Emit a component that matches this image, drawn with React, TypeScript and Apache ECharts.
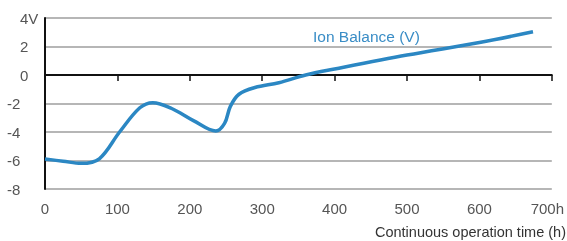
import React, { useEffect, useRef } from "react";
import * as echarts from "echarts";

const hours = [0, 25, 50, 75, 103, 131, 149, 175, 205, 236, 248, 256, 268, 290, 323, 360, 400, 500, 600, 674];
const ionBalance = [-5.9, -6.05, -6.2, -5.88, -4.0, -2.3, -1.94, -2.35, -3.2, -3.93, -3.4, -2.2, -1.35, -0.88, -0.54, 0.0, 0.42, 1.4, 2.28, 3.03];
const yTicks = [-8, -6, -4, -2, 0, 2, 4];
const xTicks = [0, 100, 200, 300, 400, 500, 600, 700];
const seriesName = "Ion Balance (V)";
const xAxisTitle = "Continuous operation time (h)";

export default function App() {
  const ref = useRef<HTMLDivElement>(null);
  useEffect(() => {
    if (!ref.current) return;
    const chart = echarts.init(ref.current, undefined, { renderer: "svg" });
    const font = "'Liberation Sans', Arial, Helvetica, sans-serif";
    chart.setOption({
      animation: false,
      grid: { left: 45, right: 14, top: 18, bottom: 52, containLabel: false },
      title: {
        text: xAxisTitle,
        right: 1,
        top: 224,
        padding: 0,
        textStyle: { fontSize: 14.5, lineHeight: 16, fontWeight: "normal", color: "#333", fontFamily: font },
      },
      graphic: [
        {
          type: "text",
          left: 313,
          top: 28,
          style: { text: seriesName, fontSize: 15.5, fill: "#3a8dc6", fontFamily: font },
        },
      ],
      xAxis: {
        type: "value",
        min: xTicks[0],
        max: xTicks[xTicks.length - 1],
        interval: 100,
        axisLine: { show: true, lineStyle: { color: "#111", width: 2 } },
        axisTick: { show: true, inside: false, length: 6, lineStyle: { color: "#111", width: 1.5 } },
        splitLine: { show: false },
        axisLabel: {
          margin: 12,
          fontSize: 15,
          color: "#555",
          fontFamily: font,
          formatter: (v: number) => (v === 700 ? "{last|" + v + "h}" : String(v)),
          rich: { last: { padding: [0, 9, 0, 0], fontSize: 15, color: "#555", fontFamily: font } },
        },
      },
      yAxis: {
        type: "value",
        min: yTicks[0],
        max: yTicks[yTicks.length - 1],
        interval: 2,
        axisLine: { show: true, onZero: false, lineStyle: { color: "#111", width: 2 } },
        axisTick: { show: false },
        splitLine: { show: true, lineStyle: { color: "#9e9e9e", width: 1.5 } },
        axisLabel: {
          align: "left",
          margin: 38,
          fontSize: 15,
          color: "#555",
          fontFamily: font,
          formatter: (v: number) => {
            if (v < 0) return "{n|" + v + "}";
            return "{p|" + (v === 4 ? "4V" : String(v)) + "}";
          },
          rich: {
            n: { fontSize: 15, color: "#555", fontFamily: font },
            p: { fontSize: 15, color: "#555", fontFamily: font, padding: [0, 0, 0, 13] },
          },
        },
      },
      series: [
        {
          name: seriesName,
          type: "line",
          data: hours.map((h, i) => [h, ionBalance[i]]),
          smooth: 0.35,
          showSymbol: false,
          lineStyle: { color: "#2b87c3", width: 3.5 },
          itemStyle: { color: "#2b87c3" },
          z: 3,
          markLine: {
            silent: true,
            symbol: "none",
            label: { show: false },
            lineStyle: { color: "#111", width: 2, type: "solid" },
            data: [{ yAxis: 0 }],
            z: 2,
          },
        },
      ],
    });
    return () => chart.dispose();
  }, []);
  return <div ref={ref} style={{ position: "fixed", left: 0, top: 0, width: 567, height: 241 }} />;
}
